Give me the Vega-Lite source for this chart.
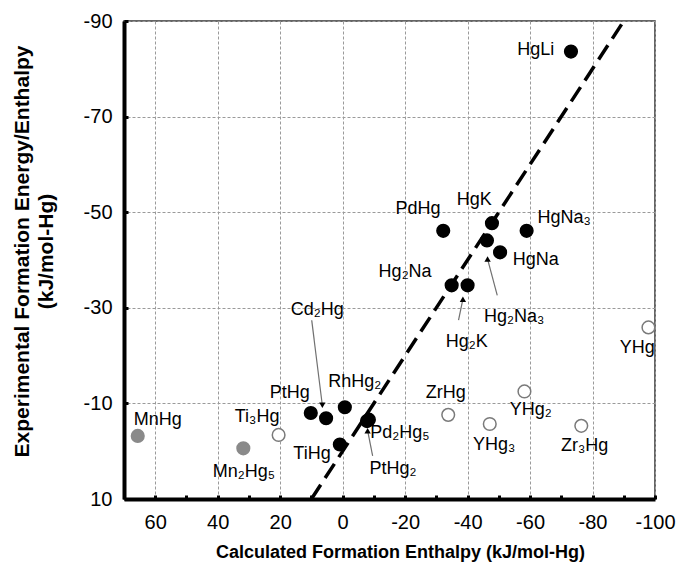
{
  "$schema": "https://vega.github.io/schema/vega-lite/v6.json",
  "width": 531,
  "height": 478,
  "autosize": {"type": "none"},
  "padding": {"left": 124, "top": 21, "right": 23, "bottom": 65},
  "background": "white",
  "config": {
    "view": {"stroke": "#333333", "strokeWidth": 1.5},
    "font": "Liberation Sans"
  },
  "datasets": {
    "fit": [{"x": 10, "y": 10}, {"x": -90, "y": -90}],
    "points": [
      {"compound": "HgLi", "x": -73.1, "y": -83.6, "group": "solid"},
      {"compound": "HgK", "x": -47.8, "y": -47.7, "group": "solid"},
      {"compound": "PdHg", "x": -32.2, "y": -46.1, "group": "solid"},
      {"compound": "HgNa3", "x": -58.9, "y": -46.1, "group": "solid"},
      {"compound": "Hg2Na3", "x": -46.2, "y": -44.1, "group": "solid"},
      {"compound": "HgNa", "x": -50.4, "y": -41.6, "group": "solid"},
      {"compound": "Hg2Na", "x": -34.9, "y": -34.7, "group": "solid"},
      {"compound": "Hg2K", "x": -40.0, "y": -34.7, "group": "solid"},
      {"compound": "PtHg", "x": 10.2, "y": -8.0, "group": "solid"},
      {"compound": "Cd2Hg", "x": 5.3, "y": -6.9, "group": "solid"},
      {"compound": "RhHg2", "x": -0.7, "y": -9.2, "group": "solid"},
      {"compound": "Pd2Hg5", "x": -8.4, "y": -6.6, "group": "solid"},
      {"compound": "PtHg2", "x": -7.8, "y": -6.3, "group": "solid"},
      {"compound": "TiHg", "x": 0.9, "y": -1.4, "group": "solid"},
      {"compound": "MnHg", "x": 65.6, "y": -3.2, "group": "gray"},
      {"compound": "Mn2Hg5", "x": 31.8, "y": -0.6, "group": "gray"},
      {"compound": "Ti3Hg", "x": 20.5, "y": -3.4, "group": "open"},
      {"compound": "ZrHg", "x": -33.8, "y": -7.6, "group": "open"},
      {"compound": "YHg3", "x": -47.1, "y": -5.7, "group": "open"},
      {"compound": "YHg2", "x": -58.2, "y": -12.5, "group": "open"},
      {"compound": "Zr3Hg", "x": -76.4, "y": -5.3, "group": "open"},
      {"compound": "YHg", "x": -97.9, "y": -25.9, "group": "open"}
    ],
    "labels": [
      {"label": "HgLi", "x": -61.8, "y": -84.0},
      {"label": "HgK", "x": -42.1, "y": -52.5},
      {"label": "PdHg", "x": -24.1, "y": -50.6},
      {"label": "HgNa₃", "x": -70.9, "y": -48.7},
      {"label": "HgNa", "x": -61.8, "y": -40.0},
      {"label": "Hg₂Na", "x": -20.0, "y": -37.4},
      {"label": "Hg₂Na₃", "x": -54.9, "y": -28.1},
      {"label": "Hg₂K", "x": -39.7, "y": -22.9},
      {"label": "YHg", "x": -94.3, "y": -21.5},
      {"label": "ZrHg", "x": -33.0, "y": -12.1},
      {"label": "YHg₂", "x": -60.2, "y": -8.6},
      {"label": "YHg₃", "x": -48.5, "y": -1.3},
      {"label": "Zr₃Hg", "x": -77.5, "y": -1.1},
      {"label": "Cd₂Hg", "x": 8.1, "y": -29.6},
      {"label": "RhHg₂", "x": -3.9, "y": -14.5},
      {"label": "PtHg", "x": 16.9, "y": -12.1},
      {"label": "MnHg", "x": 59.2, "y": -6.5},
      {"label": "Ti₃Hg", "x": 27.4, "y": -7.2},
      {"label": "Mn₂Hg₅", "x": 31.6, "y": 4.3},
      {"label": "TiHg", "x": 9.8, "y": 0.6},
      {"label": "Pd₂Hg₅", "x": -18.3, "y": -3.9},
      {"label": "PtHg₂", "x": -16.1, "y": 3.7}
    ],
    "arrows": [
      {"label": "Cd2Hg", "x": 9.9, "y": -27.4, "x2": 6.5, "y2": -9.6},
      {"label": "Hg2K", "x": -37.1, "y": -27.4, "x2": -38.5, "y2": -31.8},
      {"label": "Hg2Na3", "x": -49.5, "y": -32.6, "x2": -46.4, "y2": -40.2},
      {"label": "PtHg2", "x": -9.6, "y": 1.0, "x2": -8.0, "y2": -4.3}
    ]
  },
  "encoding": {
    "x": {
      "field": "x",
      "type": "quantitative",
      "scale": {"domain": [-100, 70], "reverse": true, "nice": false, "zero": false},
      "axis": {
        "title": "Calculated Formation Enthalpy (kJ/mol-Hg)",
        "values": [60, 50, 40, 30, 20, 10, 0, -10, -20, -30, -40, -50, -60, -70, -80, -90, -100],
        "labelExpr": "datum.value % 20 === 0 ? '' + datum.value : ''",
        "gridOpacity": {"condition": {"test": "datum.value % 20 !== 0", "value": 0}, "value": 1},
        "gridColor": "#9a9a9a",
        "gridDash": [3, 2],
        "gridWidth": 1,
        "domainColor": "black",
        "domainWidth": 4,
        "tickColor": "black",
        "tickWidth": 3,
        "tickSize": -4,
        "labelFontSize": 20,
        "labelColor": "black",
        "labelPadding": 17,
        "labelFlush": false,
        "labelOverlap": false,
        "titleFontSize": 18,
        "titleFontWeight": "bold",
        "titleColor": "black",
        "titleX": 276,
        "titleY": 58,
        "titleBaseline": "alphabetic"
      }
    },
    "y": {
      "field": "y",
      "type": "quantitative",
      "scale": {"domain": [-90, 10], "reverse": true, "nice": false, "zero": false},
      "axis": {
        "title": ["Experimental Formation Energy/Enthalpy", "(kJ/mol-Hg)"],
        "values": [-90, -70, -50, -30, -10, 10],
        "labelExpr": "'' + datum.value",
        "gridColor": "#9a9a9a",
        "gridDash": [3, 2],
        "gridWidth": 1,
        "domainColor": "black",
        "domainWidth": 4,
        "tickColor": "black",
        "tickWidth": 3,
        "tickSize": -4,
        "labelFontSize": 20,
        "labelColor": "black",
        "labelPadding": 16,
        "labelFlush": false,
        "labelOverlap": false,
        "titleFontSize": 21,
        "titleFontWeight": "bold",
        "titleColor": "black",
        "titleLineHeight": 24.5,
        "titleX": -96,
        "titleY": 230,
        "titleAngle": -90,
        "titleAlign": "center",
        "titleBaseline": "alphabetic"
      }
    }
  },
  "layer": [
    {
      "data": {"name": "fit"},
      "mark": {"type": "line", "color": "black", "strokeWidth": 3.5, "strokeDash": [17, 8]},
      "encoding": {}
    },
    {
      "data": {"name": "arrows"},
      "mark": {"type": "rule", "color": "#707070", "strokeWidth": 1.2},
      "encoding": {
        "x2": {"field": "x2"},
        "y2": {"field": "y2"}
      }
    },
    {
      "data": {"name": "points"},
      "mark": {"type": "point", "shape": "circle", "size": 160, "opacity": 1, "strokeWidth": 1.5},
      "encoding": {
        "fill": {
          "field": "group",
          "type": "nominal",
          "scale": {"domain": ["solid", "gray", "open"], "range": ["#000000", "#8a8a8a", "#ffffff"]},
          "legend": null
        },
        "stroke": {
          "field": "group",
          "type": "nominal",
          "scale": {"domain": ["solid", "gray", "open"], "range": ["#000000", "#8a8a8a", "#7a7a7a"]},
          "legend": null
        }
      }
    },
    {
      "data": {"name": "arrows"},
      "mark": {"type": "point", "filled": true, "size": 40, "opacity": 1, "color": "black"},
      "encoding": {
        "x": {"field": "x2", "type": "quantitative"},
        "y": {"field": "y2", "type": "quantitative"},
        "shape": {"condition": {"test": "datum.y2 > datum.y", "value": "triangle-down"}, "value": "triangle-up"}
      }
    },
    {
      "data": {"name": "labels"},
      "mark": {"type": "text", "fontSize": 18, "font": "Liberation Sans", "align": "center", "baseline": "middle", "color": "black"},
      "encoding": {
        "text": {"field": "label", "type": "nominal"}
      }
    }
  ]
}
